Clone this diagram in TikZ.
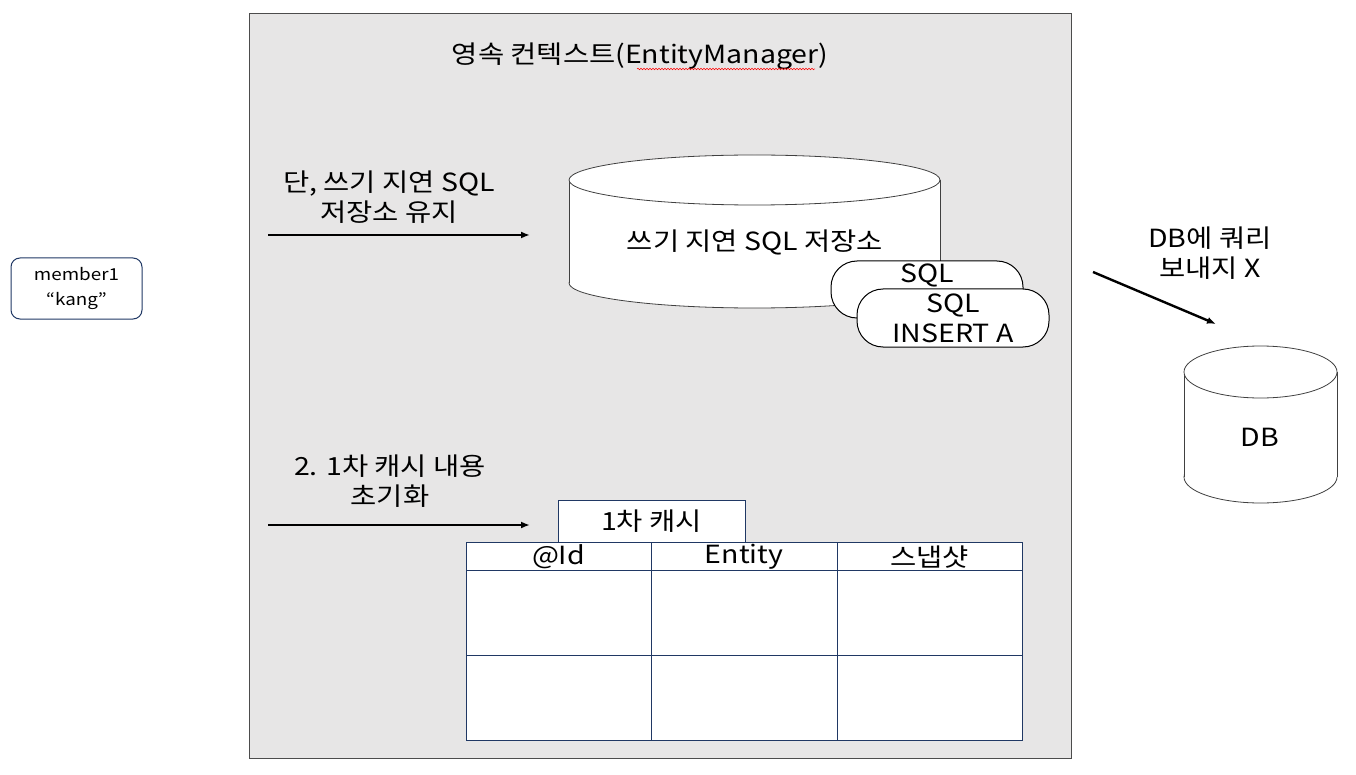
\documentclass[tikz,border=0pt]{standalone}
\usepackage{fontspec}
\setmainfont[FakeStretch=1.14]{Noto Sans CJK KR}
\usetikzlibrary{arrows.meta,decorations.pathmorphing}
\definecolor{ctxgray}{RGB}{231,230,230}
\definecolor{navy}{RGB}{32,56,100}
\tikzset{
  big/.style={font=\fontsize{25}{30}\selectfont, inner sep=0pt, align=center},
  small/.style={font=\fontsize{16.5}{25}\selectfont, inner sep=0pt, align=center},
  arr/.style={line width=2.4pt, -{Latex[length=9pt,width=7pt]}},
  cyl/.style={fill=white, draw=black!75, line width=0.8pt},
  navybox/.style={fill=white, draw=navy, line width=1pt},
  sqlbox/.style={fill=white, draw=black, line width=1pt, rounded corners=26pt}
}
\begin{document}
\begin{tikzpicture}[x=1pt,y=-1pt]
\useasboundingbox (0,0) rectangle (1356,775);
\fill[white] (0,0) rectangle (1356,775);
% persistence context
\draw[fill=ctxgray, draw=black!70, line width=0.8pt] (249,13) rectangle (1071,758);
\node[big] (title) at (640,56) {영속 컨텍스트(EntityManager)};
\draw[red, line width=0.5pt, decorate, decoration={snake, amplitude=0.8pt, segment length=3pt}] (637,69) -- (815,69);

% member1
\node[small, draw=navy, line width=1pt, fill=white, rounded corners=9pt, minimum width=131pt, minimum height=61pt] (member) at (76.5,288.5) {member1\\“kang”};

% arrow 1
\coordinate (a1s) at (268,235);
\coordinate (a1e) at (530,235);
\draw[arr] (a1s) -- (a1e);
\node[big] (l1) at (389,197) {단, 쓰기 지연 SQL\\저장소 유지};

% cylinder 1
\draw[cyl] (754.5,283) ellipse [x radius=185.5, y radius=25];
\fill[white] (569,180) rectangle (940,283);
\draw[black!75, line width=0.8pt] (569,180) -- (569,283) (940,180) -- (940,283);
\draw[cyl] (754.5,180) ellipse [x radius=185.5, y radius=25];
\node[big] (store) at (755,242) {쓰기 지연 SQL 저장소};

% SQL boxes
\draw[sqlbox] (831,261) rectangle (1023,318);
\node[big] (sql1) at (927,275) {SQL};
\draw[sqlbox] (857,289) rectangle (1049,347);
\node[big] (sql2) at (953,318.5) {SQL\\INSERT A};

% arrow 2
\coordinate (a2s) at (268,525);
\coordinate (a2e) at (530,525);
\draw[arr] (a2s) -- (a2e);
\node[big] (l2) at (390,481) {2. 1차 캐시 내용\\초기화};

% first-level cache
\draw[navybox] (558,500) rectangle (745,542);
\node[big] (cache) at (651.5,521) {1차 캐시};
\draw[navybox] (466,542) rectangle (1022,740);
\draw[navy, line width=1pt] (651,542) -- (651,740) (837,542) -- (837,740)
  (466,570) -- (1022,570) (466,655) -- (1022,655);
\node[big] (hid) at (558.5,557) {@Id};
\node[big] (hent) at (744,557) {Entity};
\node[big] (hsnap) at (929.5,557) {스냅샷};

% DB
\node[big] (l3) at (1210,253) {DB에 쿼리\\보내지 X};
\coordinate (a3s) at (1093,272);
\coordinate (a3e) at (1216,324);
\draw[arr] (a3s) -- (a3e);
\draw[cyl] (1260.5,477) ellipse [x radius=76.5, y radius=26];
\fill[white] (1184,372) rectangle (1337,477);
\draw[black!75, line width=0.8pt] (1184,372) -- (1184,477) (1337,372) -- (1337,477);
\draw[cyl] (1260.5,372) ellipse [x radius=76.5, y radius=26];
\node[big] (db) at (1260,437) {DB};
\end{tikzpicture}
\end{document}
